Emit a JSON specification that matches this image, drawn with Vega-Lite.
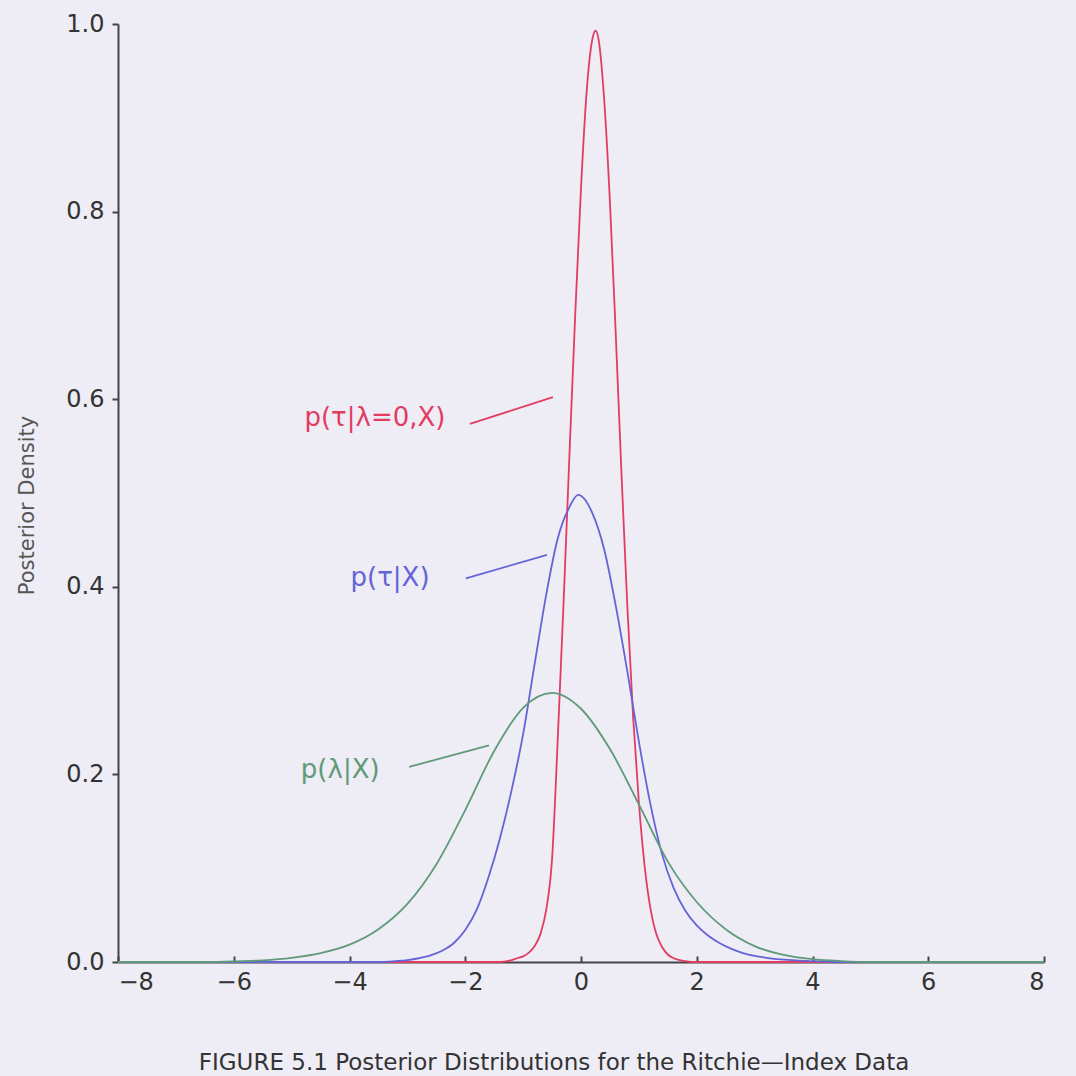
{
  "$schema": "https://vega.github.io/schema/vega-lite/v6.json",
  "autosize": {"type": "none"},
  "width": 926,
  "height": 938,
  "padding": {"left": 118, "top": 24, "right": 32, "bottom": 114},
  "background": "#eeecf5",
  "config": {
    "view": {"stroke": null},
    "font": "DejaVu Sans",
    "axis": {
      "grid": false,
      "domainColor": "#444444",
      "domainWidth": 2,
      "tickColor": "#444444",
      "tickWidth": 2,
      "labelFont": "DejaVu Sans",
      "labelFontSize": 24,
      "labelColor": "#333333",
      "titleFont": "DejaVu Sans",
      "titleFontWeight": "normal",
      "titleColor": "#555555",
      "titleFontSize": 21
    }
  },
  "title": {
    "text": "FIGURE 5.1 Posterior Distributions for the Ritchie—Index Data",
    "orient": "bottom",
    "anchor": "middle",
    "fontSize": 23,
    "fontWeight": "normal",
    "font": "DejaVu Sans",
    "color": "#333333",
    "offset": 58,
    "dx": -27
  },
  "datasets": {
    "curves": [
      {"series": "red", "x": -8, "y": 0},
      {"series": "red", "x": -1.4, "y": 0},
      {"series": "red", "x": -1.2, "y": 0.002},
      {"series": "red", "x": -1.1, "y": 0.004},
      {"series": "red", "x": -1.0, "y": 0.006},
      {"series": "red", "x": -0.9, "y": 0.01},
      {"series": "red", "x": -0.8, "y": 0.017},
      {"series": "red", "x": -0.7, "y": 0.03},
      {"series": "red", "x": -0.6, "y": 0.056},
      {"series": "red", "x": -0.5, "y": 0.11},
      {"series": "red", "x": -0.4, "y": 0.24},
      {"series": "red", "x": -0.3, "y": 0.385},
      {"series": "red", "x": -0.2, "y": 0.54},
      {"series": "red", "x": -0.1, "y": 0.69},
      {"series": "red", "x": 0.0, "y": 0.825},
      {"series": "red", "x": 0.1, "y": 0.93},
      {"series": "red", "x": 0.2, "y": 0.985},
      {"series": "red", "x": 0.25, "y": 0.993},
      {"series": "red", "x": 0.3, "y": 0.985},
      {"series": "red", "x": 0.4, "y": 0.92},
      {"series": "red", "x": 0.5, "y": 0.81},
      {"series": "red", "x": 0.6, "y": 0.67},
      {"series": "red", "x": 0.7, "y": 0.52},
      {"series": "red", "x": 0.8, "y": 0.38},
      {"series": "red", "x": 0.9, "y": 0.262},
      {"series": "red", "x": 1.0, "y": 0.17},
      {"series": "red", "x": 1.1, "y": 0.102},
      {"series": "red", "x": 1.2, "y": 0.057},
      {"series": "red", "x": 1.3, "y": 0.03},
      {"series": "red", "x": 1.4, "y": 0.016},
      {"series": "red", "x": 1.5, "y": 0.008},
      {"series": "red", "x": 1.6, "y": 0.004},
      {"series": "red", "x": 1.8, "y": 0.001},
      {"series": "red", "x": 2.0, "y": 0},
      {"series": "red", "x": 8, "y": 0},

      {"series": "blue", "x": -8, "y": 0},
      {"series": "blue", "x": -3.6, "y": 0},
      {"series": "blue", "x": -3.2, "y": 0.001},
      {"series": "blue", "x": -3.0, "y": 0.002},
      {"series": "blue", "x": -2.8, "y": 0.004},
      {"series": "blue", "x": -2.6, "y": 0.007},
      {"series": "blue", "x": -2.4, "y": 0.012},
      {"series": "blue", "x": -2.2, "y": 0.02},
      {"series": "blue", "x": -2.0, "y": 0.034},
      {"series": "blue", "x": -1.8, "y": 0.056},
      {"series": "blue", "x": -1.6, "y": 0.09},
      {"series": "blue", "x": -1.4, "y": 0.132},
      {"series": "blue", "x": -1.2, "y": 0.183},
      {"series": "blue", "x": -1.0, "y": 0.243},
      {"series": "blue", "x": -0.8, "y": 0.318},
      {"series": "blue", "x": -0.6, "y": 0.392},
      {"series": "blue", "x": -0.4, "y": 0.452},
      {"series": "blue", "x": -0.2, "y": 0.485},
      {"series": "blue", "x": -0.05, "y": 0.498},
      {"series": "blue", "x": 0.0, "y": 0.497},
      {"series": "blue", "x": 0.2, "y": 0.478},
      {"series": "blue", "x": 0.4, "y": 0.44},
      {"series": "blue", "x": 0.6, "y": 0.38},
      {"series": "blue", "x": 0.8, "y": 0.31},
      {"series": "blue", "x": 1.0, "y": 0.235},
      {"series": "blue", "x": 1.2, "y": 0.168},
      {"series": "blue", "x": 1.4, "y": 0.115},
      {"series": "blue", "x": 1.6, "y": 0.079},
      {"series": "blue", "x": 1.8, "y": 0.055},
      {"series": "blue", "x": 2.0, "y": 0.039},
      {"series": "blue", "x": 2.2, "y": 0.028},
      {"series": "blue", "x": 2.4, "y": 0.02},
      {"series": "blue", "x": 2.6, "y": 0.014},
      {"series": "blue", "x": 2.8, "y": 0.0095},
      {"series": "blue", "x": 3.0, "y": 0.0065},
      {"series": "blue", "x": 3.2, "y": 0.0045},
      {"series": "blue", "x": 3.5, "y": 0.0025},
      {"series": "blue", "x": 4.0, "y": 0.001},
      {"series": "blue", "x": 4.5, "y": 0},
      {"series": "blue", "x": 8, "y": 0},

      {"series": "green", "x": -8, "y": 0},
      {"series": "green", "x": -6.5, "y": 0},
      {"series": "green", "x": -6.0, "y": 0.0006},
      {"series": "green", "x": -5.5, "y": 0.0018},
      {"series": "green", "x": -5.0, "y": 0.0045},
      {"series": "green", "x": -4.5, "y": 0.0095},
      {"series": "green", "x": -4.0, "y": 0.0185},
      {"series": "green", "x": -3.5, "y": 0.035},
      {"series": "green", "x": -3.0, "y": 0.062},
      {"series": "green", "x": -2.5, "y": 0.104},
      {"series": "green", "x": -2.0, "y": 0.162},
      {"series": "green", "x": -1.5, "y": 0.225},
      {"series": "green", "x": -1.0, "y": 0.271},
      {"series": "green", "x": -0.5, "y": 0.287},
      {"series": "green", "x": 0.0, "y": 0.27},
      {"series": "green", "x": 0.5, "y": 0.227},
      {"series": "green", "x": 1.0, "y": 0.168},
      {"series": "green", "x": 1.5, "y": 0.107},
      {"series": "green", "x": 2.0, "y": 0.064},
      {"series": "green", "x": 2.5, "y": 0.035},
      {"series": "green", "x": 3.0, "y": 0.017},
      {"series": "green", "x": 3.5, "y": 0.0075},
      {"series": "green", "x": 4.0, "y": 0.003},
      {"series": "green", "x": 4.5, "y": 0.001},
      {"series": "green", "x": 5.0, "y": 0},
      {"series": "green", "x": 8, "y": 0}
    ],
    "labels": [
      {"series": "red", "label": "p(τ|λ=0,X)", "tx": -3.56, "ty": 0.58, "x1": -1.92, "y1": 0.5736, "x2": -0.484, "y2": 0.6023},
      {"series": "blue", "label": "p(τ|X)", "tx": -3.3, "ty": 0.409, "x1": -1.99, "y1": 0.409, "x2": -0.587, "y2": 0.434},
      {"series": "green", "label": "p(λ|X)", "tx": -4.16, "ty": 0.2047, "x1": -2.97, "y1": 0.208, "x2": -1.59, "y2": 0.231}
    ]
  },
  "layer": [
    {
      "data": {"name": "curves"},
      "mark": {"type": "line", "interpolate": "monotone", "strokeWidth": 1.8},
      "encoding": {
        "x": {
          "field": "x", "type": "quantitative",
          "scale": {"domain": [-8, 8], "nice": false},
          "axis": {"title": null, "values": [-8, -6, -4, -2, 0, 2, 4, 6, 8], "format": "d", "tickSize": -6, "labelPadding": 14}
        },
        "y": {
          "field": "y", "type": "quantitative",
          "scale": {"domain": [0, 1], "nice": false},
          "axis": {"title": "Posterior Density", "values": [0, 0.2, 0.4, 0.6, 0.8, 1.0], "format": ".1f", "tickSize": 6, "labelPadding": 8,
                   "titleX": -91, "titleY": 481, "titleAngle": 270, "titleAlign": "center", "titleBaseline": "middle"}
        },
        "color": {
          "field": "series", "type": "nominal",
          "scale": {"domain": ["red", "blue", "green"], "range": ["#e23c62", "#6464d6", "#5f9a7a"]},
          "legend": null
        },
        "detail": {"field": "series"}
      }
    },
    {
      "data": {"name": "labels"},
      "mark": {"type": "rule", "strokeWidth": 1.8},
      "encoding": {
        "x": {"field": "x1", "type": "quantitative"},
        "y": {"field": "y1", "type": "quantitative"},
        "x2": {"field": "x2"},
        "y2": {"field": "y2"},
        "color": {"field": "series", "type": "nominal", "legend": null}
      }
    },
    {
      "data": {"name": "labels"},
      "mark": {"type": "text", "fontSize": 26, "font": "DejaVu Sans", "align": "center", "baseline": "middle"},
      "encoding": {
        "x": {"field": "tx", "type": "quantitative"},
        "y": {"field": "ty", "type": "quantitative"},
        "text": {"field": "label"},
        "color": {
          "field": "series", "type": "nominal",
          "scale": {"domain": ["red", "blue", "green"], "range": ["#e23c62", "#6464d6", "#5f9a7a"]},
          "legend": null
        }
      }
    }
  ]
}
